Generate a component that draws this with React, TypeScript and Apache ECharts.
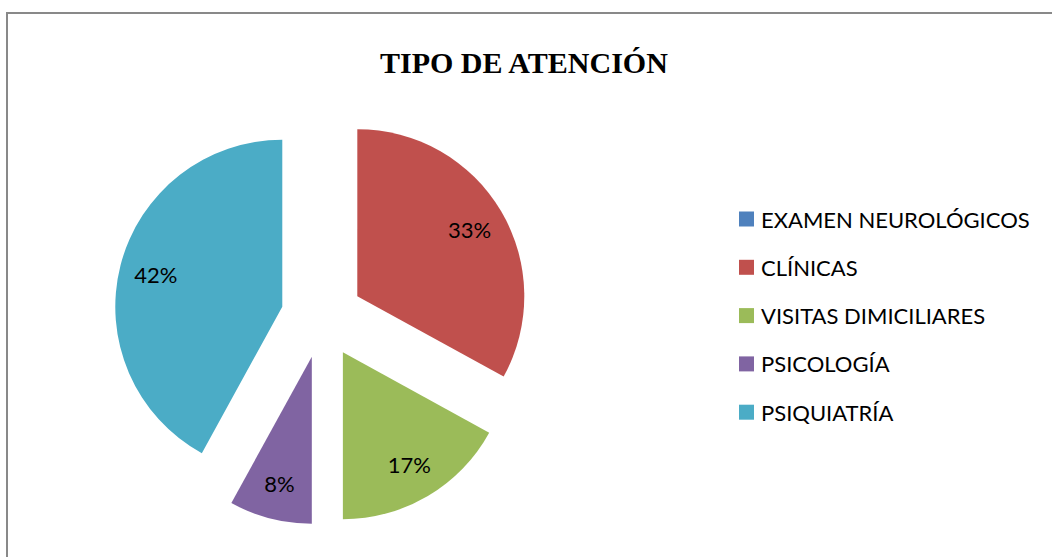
import React, { useEffect, useRef } from "react";
import * as echarts from "echarts";

const titleText = "TIPO DE ATENCIÓN";
const categories = [
  "EXAMEN NEUROLÓGICOS",
  "CLÍNICAS",
  "VISITAS DIMICILIARES",
  "PSICOLOGÍA",
  "PSIQUIATRÍA",
];
const values = [0, 33, 17, 8, 42];
const colors = ["#4F81BD", "#C0504D", "#9BBB59", "#8064A2", "#4BACC6"];

const CENTER = [322, 317];
const R = 167;
const OFFSET = 41;

export default function App() {
  const ref = useRef<HTMLDivElement>(null);
  useEffect(() => {
    if (!ref.current) return;
    const chart = echarts.init(ref.current, undefined, { renderer: "svg" });
    const baseData = categories.map((name, i) => ({
      name,
      value: values[i],
      selected: true,
      itemStyle: { color: colors[i] },
    }));
    const labelData = categories.map((name, i) => ({
      name,
      value: values[i],
      selected: true,
      itemStyle: { color: "rgba(0,0,0,0)" },
      label: { show: values[i] > 0 },
    }));
    chart.setOption({
      animation: false,
      backgroundColor: "#ffffff",
      title: {
        text: titleText,
        left: 375,
        top: 42,
        textStyle: {
          fontFamily: "Liberation Serif",
          fontWeight: "bold",
          fontSize: 30,
          color: "#000000",
        },
      },
      graphic: [
        {
          type: "rect",
          shape: { x: 7, y: 13, width: 1100, height: 600 },
          style: { fill: "none", stroke: "#898989", lineWidth: 2 },
          silent: true,
        },
      ],
      legend: {
        data: categories,
        orient: "vertical",
        left: 734,
        top: 203,
        itemWidth: 15,
        itemHeight: 15,
        itemGap: 26.3,
        icon: "rect",
        selectedMode: false,
        textStyle: {
          fontFamily: "Lato",
          fontSize: 22,
          color: "#000000",
          lineHeight: 20,
          padding: [0, 0, 0, 2],
        },
      },
      series: [
        {
          type: "pie",
          center: CENTER,
          radius: [0, R],
          startAngle: 90,
          clockwise: true,
          selectedMode: "multiple",
          selectedOffset: OFFSET,
          avoidLabelOverlap: false,
          label: { show: false },
          labelLine: { show: false },
          emphasis: { disabled: true },
          select: { itemStyle: { borderWidth: 0 } },
          data: baseData,
        },
        {
          type: "pie",
          center: CENTER,
          radius: [88, R],
          startAngle: 90,
          clockwise: true,
          silent: true,
          selectedMode: "multiple",
          selectedOffset: OFFSET,
          avoidLabelOverlap: false,
          label: {
            show: true,
            position: "inside",
            fontFamily: "Lato",
            fontSize: 22,
            color: "#000000",
            formatter: (p: any) => Math.round(p.percent) + "%",
          },
          labelLine: { show: false },
          emphasis: { disabled: true },
          select: { itemStyle: { borderWidth: 0 }, label: { color: "#000000" } },
          data: labelData,
        },
      ],
    });
    return () => chart.dispose();
  }, []);
  return (
    <div
      ref={ref}
      style={{ position: "fixed", left: 0, top: 0, width: 1052, height: 557 }}
    />
  );
}
